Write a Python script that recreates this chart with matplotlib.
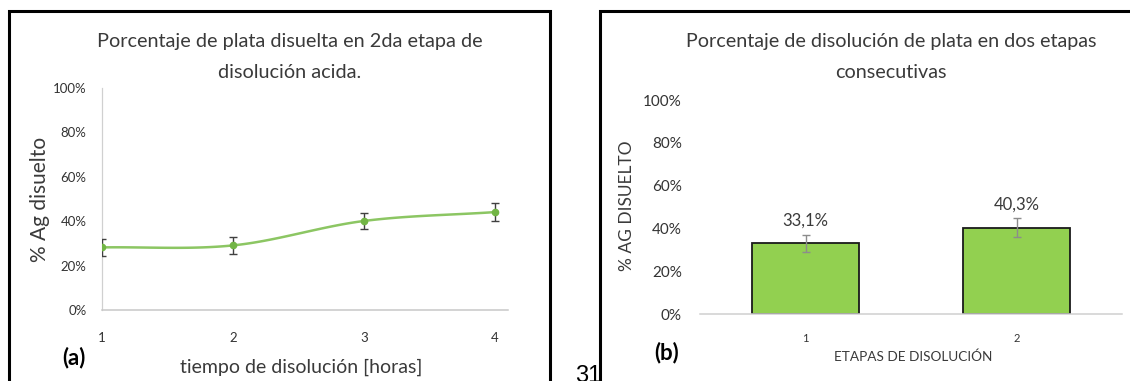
import numpy as np
import matplotlib
matplotlib.use("Agg")
import matplotlib.pyplot as plt
from matplotlib.patches import Rectangle
from matplotlib.ticker import FuncFormatter

# ---- data -------------------------------------------------------------
hours = [1, 2, 3, 4]
dissolved_a = [0.282, 0.291, 0.401, 0.441]
err_a = [0.040, 0.038, 0.038, 0.042]

stages = [1, 2]
dissolved_b = [0.331, 0.403]
err_b = [0.040, 0.045]
bar_labels = ["33,1%", "40,3%"]

yticks = [0, 0.2, 0.4, 0.6, 0.8, 1.0]

FONT = ["Lato", "DejaVu Sans"]
plt.rcParams["font.family"] = FONT

W, H = 1130, 381
fig = plt.figure(figsize=(W / 100, H / 100), dpi=100)
fig.patch.set_facecolor("white")


def fx(px):
    return px / W


def fy(py):
    return 1 - py / H


pct = FuncFormatter(lambda v, _: f"{v * 100:.0f}%")
TXT = "#3a3a3a"


def catmull_rom(x, y, n=40):
    """Smooth curve through the points (Excel-style smoothed line)."""
    x = np.asarray(x, float)
    y = np.asarray(y, float)
    px = np.concatenate([[2 * x[0] - x[1]], x, [2 * x[-1] - x[-2]]])
    py = np.concatenate([[2 * y[0] - y[1]], y, [2 * y[-1] - y[-2]]])
    xs, ys = [], []
    for i in range(1, len(px) - 2):
        t = np.linspace(0, 1, n)
        for arr, out in ((px, xs), (py, ys)):
            p0, p1, p2, p3 = arr[i - 1], arr[i], arr[i + 1], arr[i + 2]
            out.append(0.5 * ((2 * p1) + (-p0 + p2) * t
                              + (2 * p0 - 5 * p1 + 4 * p2 - p3) * t ** 2
                              + (-p0 + 3 * p1 - 3 * p2 + p3) * t ** 3))
    return np.concatenate(xs), np.concatenate(ys)


# ---- page number fragment between the panels --------------------------
fig.text(fx(575), fy(382), "31", fontsize=17, family="Liberation Sans",
         color="black", va="baseline", ha="left", zorder=1)

# ---- panel frames -----------------------------------------------------
fig.patches.append(Rectangle((fx(9), fy(400)), fx(541), fy(11) - fy(400),
                             transform=fig.transFigure, facecolor="white",
                             edgecolor="black", linewidth=2.2, zorder=2))
fig.patches.append(Rectangle((fx(600), fy(400)), fx(560), fy(11) - fy(400),
                             transform=fig.transFigure, facecolor="white",
                             edgecolor="black", linewidth=2.2, zorder=2))

# ---- (a) line chart ---------------------------------------------------
axa = fig.add_axes([fx(102), fy(310), fx(508) - fx(102), fy(88) - fy(310)])
axa.set_zorder(3)
axa.patch.set_alpha(0)
sx, sy = catmull_rom(hours, dissolved_a)
axa.plot(sx, sy, color="#8cc663", lw=1.8, solid_capstyle="round")
axa.errorbar(hours, dissolved_a, yerr=err_a, fmt="o", ms=4.5,
             color="#72b545", ecolor="#404040", elinewidth=1.0,
             capsize=3, capthick=1.0, zorder=4)
axa.set_xlim(1, 4.1)
axa.set_ylim(0, 1)
axa.set_yticks(yticks)
axa.yaxis.set_major_formatter(pct)
axa.set_xticks(hours)
for s in ("top", "right"):
    axa.spines[s].set_visible(False)
axa.spines["left"].set_color("#d0d0d0")
axa.spines["bottom"].set_color("#c8c8c8")
axa.spines["left"].set_linewidth(0.9)
axa.spines["bottom"].set_linewidth(1.1)
axa.tick_params(length=0, labelsize=9.5, colors="#333333")
axa.tick_params(axis="y", pad=11)
axa.tick_params(axis="x", pad=16)
axa.set_ylabel("% Ag disuelto", fontsize=15, color=TXT)
axa.yaxis.set_label_coords((50 - 102) / 406, (310 - 199) / 222)
axa.set_xlabel("tiempo de disolución [horas]", fontsize=14, color=TXT)
axa.xaxis.set_label_coords(0.49, -(367 - 310) / 222)
axa.xaxis.label.set_va("center")

fig.text(fx(290), fy(42), "Porcentaje de plata disuelta en 2da etapa de",
         fontsize=14.3, color=TXT, ha="center", va="center", zorder=5)
fig.text(fx(290), fy(73), "disolución acida.", fontsize=14.3, color=TXT,
         ha="center", va="center", zorder=5)
fig.text(fx(74), fy(358), "(a)", fontsize=16, fontweight="bold",
         color="black", ha="center", va="center", zorder=5)

# ---- (b) bar chart ----------------------------------------------------
axb = fig.add_axes([fx(700), fy(314), fx(1122) - fx(700), fy(100) - fy(314)])
axb.set_zorder(3)
axb.patch.set_alpha(0)
axb.bar(stages, dissolved_b, width=0.507, color="#92d050",
        edgecolor="#1a1a1a", linewidth=1.3, zorder=2)
axb.errorbar(stages, dissolved_b, yerr=err_b, fmt="none", ecolor="#8c8c8c",
             elinewidth=1.0, capsize=3, capthick=1.0, zorder=3)
for xv, yv, ev, lab in zip(stages, dissolved_b, err_b, bar_labels):
    axb.annotate(lab, (xv, yv + ev), xytext=(0, 10), textcoords="offset points",
                 ha="center", va="center", fontsize=12, color=TXT)
axb.set_xlim(0.5, 2.5)
axb.set_ylim(0, 1)
axb.set_yticks(yticks)
axb.yaxis.set_major_formatter(pct)
axb.set_xticks(stages)
for s in ("top", "right", "left"):
    axb.spines[s].set_visible(False)
axb.spines["bottom"].set_color("#d0d0d0")
axb.spines["bottom"].set_linewidth(1.1)
axb.tick_params(length=0, colors="#333333")
axb.tick_params(axis="y", labelsize=11, pad=13)
axb.tick_params(axis="x", labelsize=8, pad=14)
axb.set_ylabel("% AG DISUELTO", fontsize=12.5, color=TXT)
axb.yaxis.set_label_coords((635 - 700) / 422, (314 - 206) / 214)
axb.set_xlabel("ETAPAS DE DISOLUCIÓN", fontsize=9.8, color=TXT)
axb.xaxis.set_label_coords((913 - 700) / 422, -(357 - 314) / 214)
axb.xaxis.label.set_va("center")

fig.text(fx(891), fy(42), "Porcentaje de disolución de plata en dos etapas",
         fontsize=14.2, color=TXT, ha="center", va="center", zorder=5)
fig.text(fx(891), fy(72), "consecutivas", fontsize=14.2, color=TXT,
         ha="center", va="center", zorder=5)
fig.text(fx(667), fy(353), "(b)", fontsize=16, fontweight="bold",
         color="black", ha="center", va="center", zorder=5)

fig.savefig("out.png", dpi=100, facecolor="white")
